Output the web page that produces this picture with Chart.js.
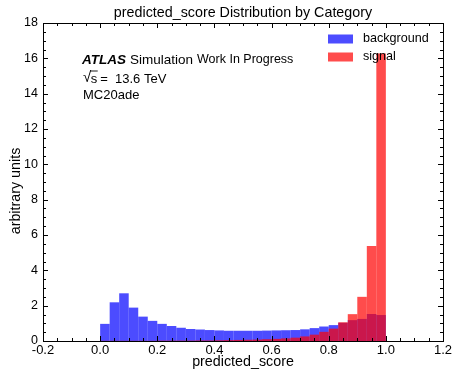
<!DOCTYPE html>
<html>
<head>
<meta charset="utf-8">
<script src="https://cdn.jsdelivr.net/npm/chart.js@4/dist/chart.umd.min.js"></script>
<style>
  html, body { margin: 0; padding: 0; background: #fff; }
  canvas { display: block; }
</style>
</head>
<body>
<canvas id="hist" width="453" height="371"></canvas>
<script>
// Histogram of predicted_score, 30 bins over [0, 1]
const binCenters = [0.01667, 0.05, 0.08333, 0.11667, 0.15, 0.18333, 0.21667, 0.25, 0.28333, 0.31667,
                    0.35, 0.38333, 0.41667, 0.45, 0.48333, 0.51667, 0.55, 0.58333, 0.61667, 0.65,
                    0.68333, 0.71667, 0.75, 0.78333, 0.81667, 0.85, 0.88333, 0.91667, 0.95, 0.98333];

const backgroundCounts = [0.97, 2.19, 2.70, 1.89, 1.38, 1.14, 0.97, 0.85, 0.75, 0.68,
                          0.65, 0.62, 0.60, 0.58, 0.58, 0.58, 0.58, 0.59, 0.60, 0.61,
                          0.62, 0.66, 0.73, 0.82, 0.90, 1.03, 1.18, 1.25, 1.53, 1.47];

const signalCounts = [0.01, 0.01, 0.01, 0.01, 0.01, 0.01, 0.02, 0.02, 0.02, 0.02,
                      0.03, 0.03, 0.04, 0.05, 0.06, 0.07, 0.08, 0.10, 0.12, 0.15,
                      0.19, 0.26, 0.36, 0.52, 0.70, 1.06, 1.52, 2.50, 5.38, 16.28];

const seriesNames = ['background', 'signal'];
const seriesColors = ['rgba(0, 0, 255, 0.7)', 'rgba(255, 0, 0, 0.7)'];

const xTickValues = [-0.2, 0.0, 0.2, 0.4, 0.6, 0.8, 1.0, 1.2];
const yTickValues = [0, 2, 4, 6, 8, 10, 12, 14, 16, 18];

const chartTitle = 'predicted_score Distribution by Category';
const FONT = '"Liberation Sans", Arial, Helvetica, sans-serif';

function toPoints(values) {
  return values.map((v, i) => ({ x: binCenters[i], y: v }));
}

// Frame with inward ticks on all four sides, titles, legend and labels inside the axes
const decorations = {
  id: 'decorations',
  afterDatasetsDraw(chart) {
    const { ctx, chartArea: a, scales: { x, y } } = chart;
    ctx.save();
    ctx.strokeStyle = '#000';
    ctx.lineWidth = 1;
    ctx.strokeRect(Math.round(a.left) + 0.5, Math.round(a.top) + 0.5,
                   Math.round(a.right) - Math.round(a.left), Math.round(a.bottom) - Math.round(a.top));

    const MAJ = 5, MIN = 3;
    ctx.beginPath();
    // x ticks: major every 0.2, minor in between
    const xMin = xTickValues[0], xMax = xTickValues[xTickValues.length - 1];
    const xDivs = 4;
    const xStep = (xTickValues[1] - xTickValues[0]) / xDivs;
    const nx = Math.round((xMax - xMin) / xStep);
    for (let k = 0; k <= nx; k++) {
      const px = Math.round(x.getPixelForValue(xMin + k * xStep)) + 0.5;
      const len = (k % xDivs === 0) ? MAJ : MIN;
      ctx.moveTo(px, a.bottom); ctx.lineTo(px, a.bottom - len);
      ctx.moveTo(px, a.top); ctx.lineTo(px, a.top + len);
    }
    // y ticks
    const yMin = yTickValues[0], yMax = yTickValues[yTickValues.length - 1];
    const yDivs = 4;
    const yStep = (yTickValues[1] - yTickValues[0]) / yDivs;
    const ny = Math.round((yMax - yMin) / yStep);
    for (let k = 0; k <= ny; k++) {
      const py = Math.round(y.getPixelForValue(yMin + k * yStep)) + 0.5;
      const len = (k % yDivs === 0) ? MAJ : MIN;
      ctx.moveTo(a.left, py); ctx.lineTo(a.left + len, py);
      ctx.moveTo(a.right, py); ctx.lineTo(a.right - len, py);
    }
    ctx.stroke();

    ctx.fillStyle = '#000';

    // chart title, centred over the axes
    ctx.font = '14.3px ' + FONT;
    ctx.textAlign = 'center';
    ctx.textBaseline = 'middle';
    ctx.fillText(chartTitle, (a.left + a.right) / 2, 13);

    // y axis title
    ctx.save();
    ctx.translate(16, 191);
    ctx.rotate(-Math.PI / 2);
    ctx.fillText('arbitrary units', 0, 0);
    ctx.restore();

    // legend
    ctx.textAlign = 'left';
    ctx.textBaseline = 'middle';
    ctx.font = '12.6px ' + FONT;
    const legendRows = [39, 57];
    seriesNames.forEach((name, i) => {
      ctx.fillStyle = seriesColors[i];
      ctx.fillRect(328, legendRows[i] - 4.5, 25, 9);
      ctx.fillStyle = '#000';
      ctx.fillText(name, 363, legendRows[i]);
    });

    // experiment label
    let tx = 82;
    const ty = 60;
    ctx.font = 'italic bold 13.5px ' + FONT;
    ctx.fillText('ATLAS', tx, ty);
    tx += ctx.measureText('ATLAS').width + 4;
    ctx.font = '13.5px ' + FONT;
    ctx.fillText('Simulation', tx, ty);
    tx += ctx.measureText('Simulation').width + 4;
    ctx.font = '12.5px ' + FONT;
    ctx.fillText('Work In Progress', tx, ty);

    // sqrt(s) line
    let sx = 83;
    const sy = 78;
    ctx.font = '15px ' + FONT;
    ctx.fillText('\u221A', sx, sy);
    sx += ctx.measureText('\u221A').width - 0.5;
    ctx.font = '13px ' + FONT;
    const sW = ctx.measureText('s').width;
    ctx.fillText('s', sx, sy + 1);
    ctx.beginPath();
    ctx.lineWidth = 0.9;
    ctx.moveTo(sx - 0.5, sy - 7);
    ctx.lineTo(sx + sW + 0.5, sy - 7);
    ctx.stroke();
    sx += sW + 3;
    ctx.fillText('=  13.6 TeV', sx, sy + 1);

    ctx.fillText('MC20ade', 83, 95);
    ctx.restore();
  }
};

new Chart(document.getElementById('hist'), {
  type: 'bar',
  data: {
    datasets: [
      { label: seriesNames[0], data: toPoints(backgroundCounts), backgroundColor: seriesColors[0], order: 2,
        borderWidth: 0, grouped: false, barPercentage: 1, categoryPercentage: 1, inflateAmount: 0 },
      { label: seriesNames[1], data: toPoints(signalCounts), backgroundColor: seriesColors[1], order: 1,
        borderWidth: 0, grouped: false, barPercentage: 1, categoryPercentage: 1, inflateAmount: 0 }
    ]
  },
  options: {
    responsive: false,
    animation: false,
    devicePixelRatio: 1,
    layout: { padding: { left: 0, right: 10, top: 23, bottom: 0 } },
    plugins: {
      legend: { display: false },
      tooltip: { enabled: false },
      title: { display: false }
    },
    scales: {
      x: {
        type: 'linear',
        min: -0.2, max: 1.2,
        offset: false,
        grid: { display: false, drawTicks: false, offset: false },
        border: { display: false },
        afterBuildTicks: s => { s.ticks = xTickValues.map(v => ({ value: v })); },
        ticks: {
          autoSkip: false, maxRotation: 0, padding: 2, color: '#000',
          font: { family: FONT, size: 13 },
          callback: v => v.toFixed(1)
        },
        title: {
          display: true, text: 'predicted_score', color: '#000',
          font: { family: FONT, size: 14.3 }, padding: { top: 0, bottom: 0 }
        },
        afterFit: s => { s.height = 30; s.paddingLeft = 0; s.paddingRight = 0; }
      },
      y: {
        type: 'linear',
        min: 0, max: 18,
        grid: { display: false, drawTicks: false },
        border: { display: false },
        afterBuildTicks: s => { s.ticks = yTickValues.map(v => ({ value: v })); },
        ticks: {
          padding: 5, color: '#000',
          font: { family: FONT, size: 12.5 }
        },
        afterFit: s => { s.width = 43; s.paddingTop = 0; s.paddingBottom = 0; }
      }
    }
  },
  plugins: [decorations]
});
</script>
</body>
</html>
